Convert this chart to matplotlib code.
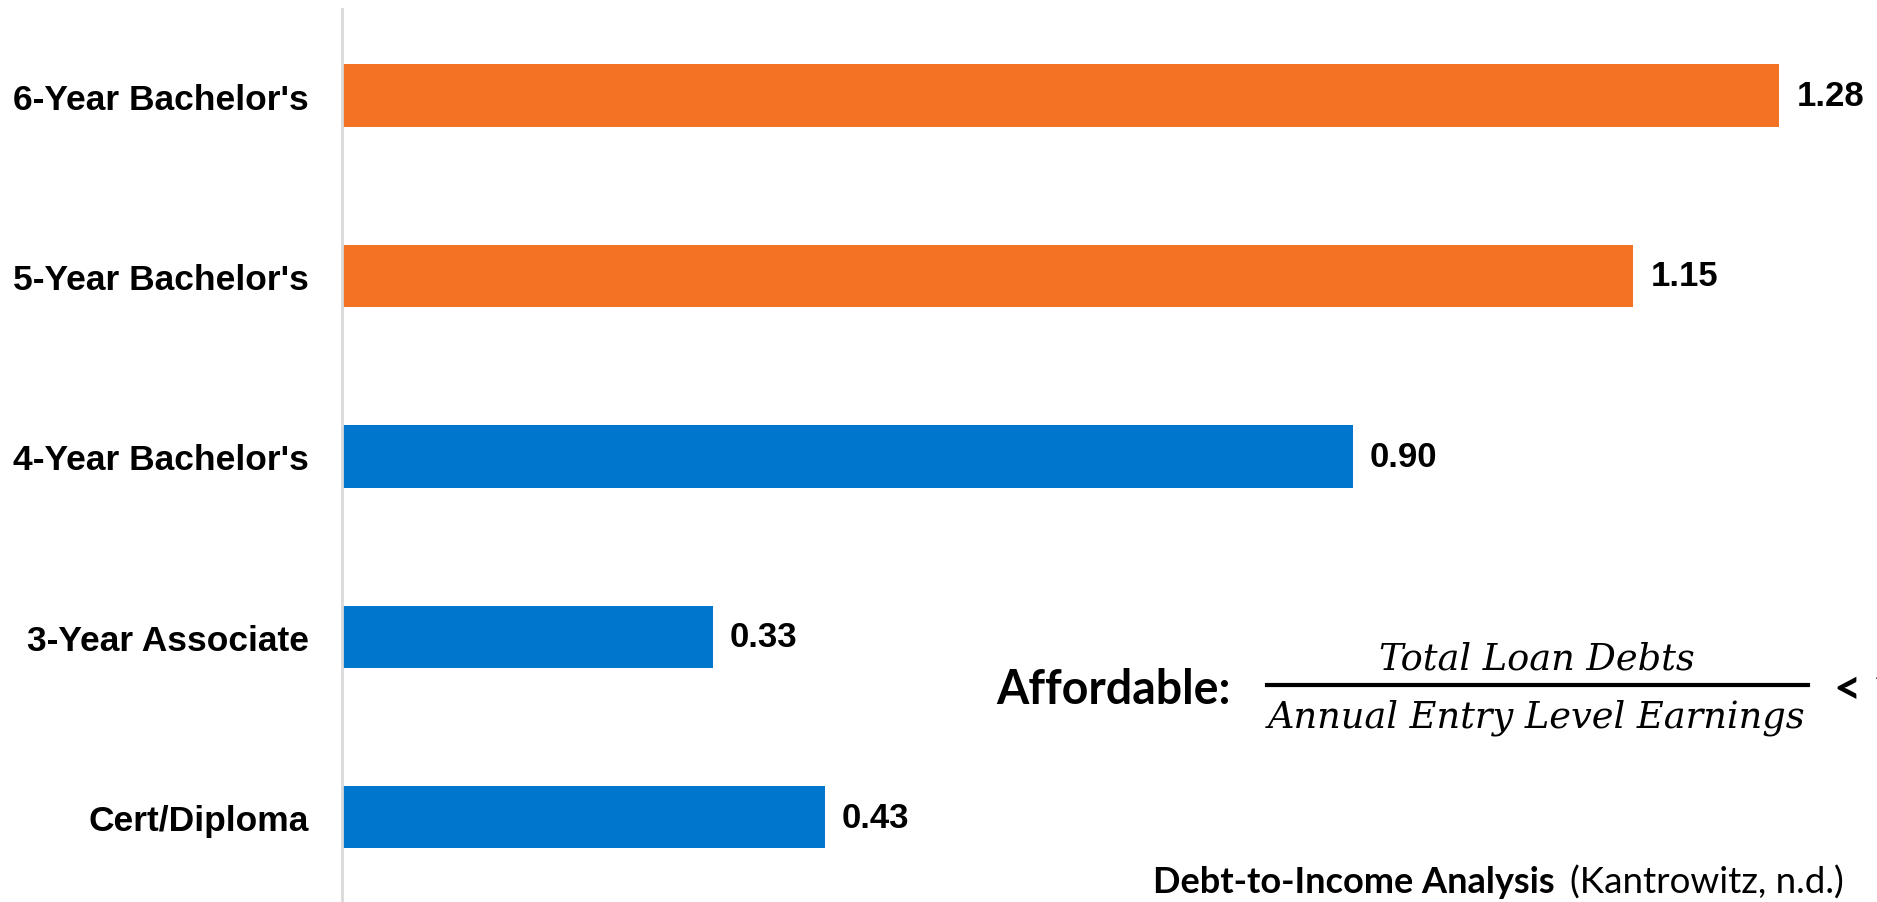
import matplotlib.pyplot as plt

# data
categories = ["Cert/Diploma", "3-Year Associate", "4-Year Bachelor's",
              "5-Year Bachelor's", "6-Year Bachelor's"]
ratios = [0.43, 0.33, 0.90, 1.15, 1.28]
value_labels = ["0.43", "0.33", "0.90", "1.15", "1.28"]
bar_colors = ["#0077CC", "#0077CC", "#0077CC", "#F37223", "#F37223"]

W, H = 1877, 903
fig = plt.figure(figsize=(W / 100, H / 100), dpi=100)
ax = fig.add_axes([342 / W, 0, 1 - 342 / W, (H - 10) / H])

y = list(range(len(categories)))
ax.barh(y, ratios, height=0.345, color=bar_colors)
ax.set_xlim(0, 1535 / 1123)
ax.set_ylim(-0.47, 4.48)

for yi, v, lab in zip(y, ratios, value_labels):
    ax.text(v + 0.015, yi, lab, va="center", ha="left",
            fontsize=25, fontweight="bold", family="Liberation Sans")

ax.set_yticks(y)
ax.set_yticklabels(categories, fontsize=25.5, fontweight="bold",
                   family="Liberation Sans")
ax.tick_params(axis="y", length=0, pad=24)
ax.set_xticks([])
for s in ["top", "right", "bottom"]:
    ax.spines[s].set_visible(False)
ax.spines["left"].set_color("#D9D9D9")
ax.spines["left"].set_linewidth(2)

# affordability formula
fig.text(996 / W, 1 - 690 / H, "Affordable:", fontsize=33.5, fontweight="bold",
         family="Lato", va="center", ha="left")
fig.text(1537 / W, 1 - 660 / H, "Total Loan Debts", fontsize=26.5,
         family="DejaVu Serif", style="italic", ha="center", va="center")
fig.text(1537 / W, 1 - 718 / H, "Annual Entry Level Earnings", fontsize=26.5,
         family="DejaVu Serif", style="italic", ha="center", va="center")
fig.add_artist(plt.Line2D([1267 / W, 1808 / W], [1 - 686 / H, 1 - 686 / H],
                          color="black", linewidth=3))
fig.text(1834 / W, 1 - 690 / H, "< 1", fontsize=34, fontweight="bold",
         family="Lato", va="center", ha="left")

# source note
fig.text(1153 / W, 1 - 883 / H, "Debt-to-Income Analysis", fontsize=26,
         fontweight="bold", family="Lato", ha="left", va="center")
fig.text(1844 / W, 1 - 883 / H, "(Kantrowitz, n.d.)", fontsize=26.5,
         family="Lato", ha="right", va="center")

fig.savefig("out.png", dpi=100)
